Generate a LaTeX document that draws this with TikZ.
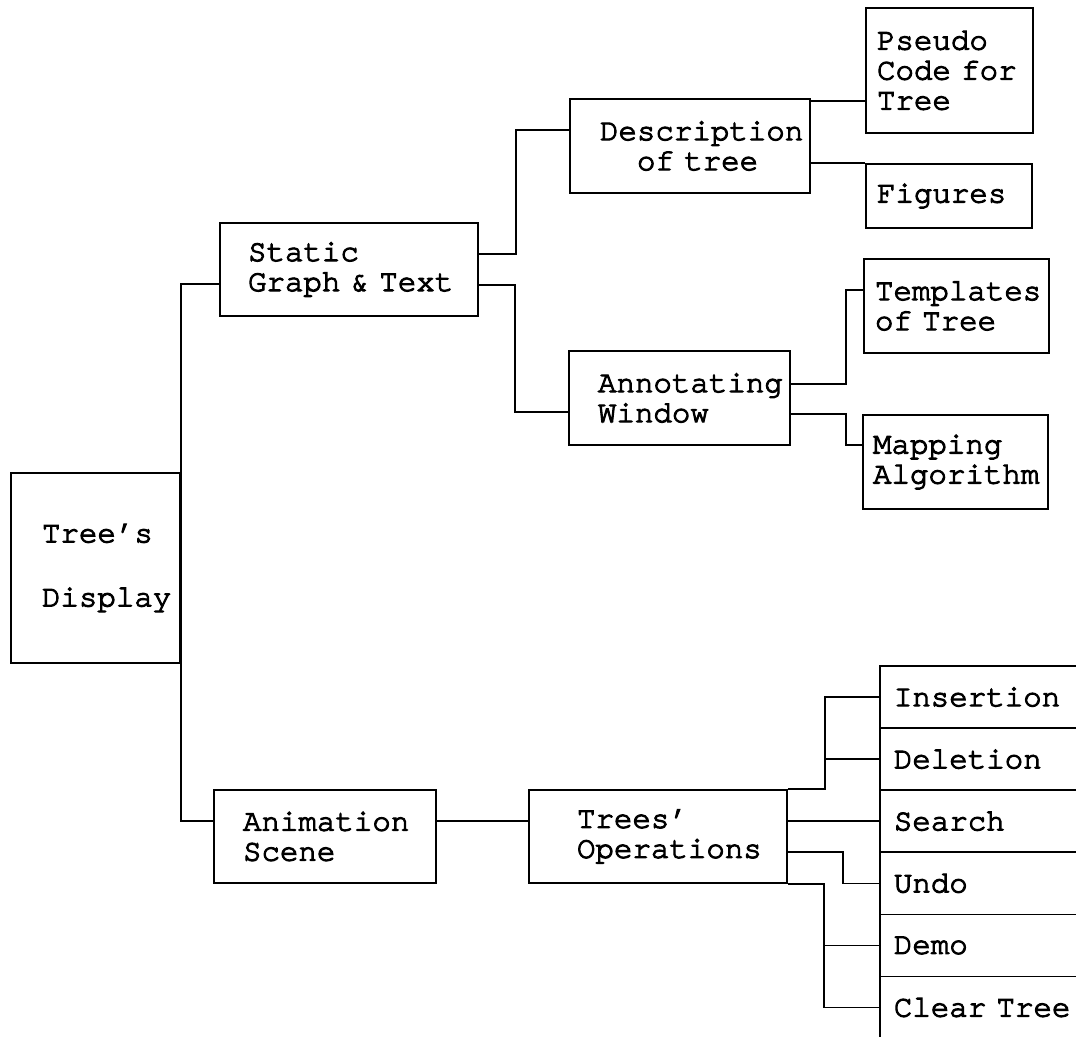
\documentclass[tikz,border=0pt]{standalone}
\usepackage{fontspec}
\newfontfamily\cour{TeX Gyre Cursor}[FakeBold=3.5]
\hyphenpenalty=10000
\exhyphenpenalty=10000
\begin{document}
\begin{tikzpicture}[x=1pt,y=-1pt,
  every node/.style={font=\cour\fontsize{30.8}{30}\selectfont},
  % box={text width}{height}{left padding}
  box/.style n args={3}{draw, line width=1.7pt, rectangle, align=left,
    text width=#1, minimum height=#2, inner xsep=#3, inner ysep=0pt},
  conn/.style={line width=1.7pt}]
\useasboundingbox (0,0) rectangle (1076,1036);
\clip (0,0) rectangle (1076,1036);

% root and first level
\node[box={107pt}{190pt}{31pt}] (disp) at (95.5,568) {Tree’s\\[34pt]Display};
\node[box={202pt}{93pt}{28pt}] (stat) at (349,269.5) {Static\\Graph~\&~Text};
\node[box={164pt}{93pt}{29pt}] (anim) at (325,836.5) {Animation\\Scene};

% second level
\node[box={180pt}{94pt}{30pt}] (desc) at (690,146) {\mbox{Description}\\\hspace*{37pt}of~tree};
\node[box={163pt}{94pt}{29pt}] (anno) at (679.5,398) {\mbox{Annotating}\\Window};
\node[box={162pt}{93pt}{48pt}] (tops) at (658,836.5) {Trees’\\\mbox{Operations}};

% leaves of the static branch
\node[box={145pt}{125pt}{11pt}] (pseu) at (949.5,70.5) {Pseudo\\Code~for\\Tree};
\node[box={144pt}{64pt}{11pt}] (figs) at (949,196) {Figures};
\node[box={163pt}{94pt}{11pt}] (tmpl) at (956.5,306) {\mbox{Templates}\\of~Tree};
\node[box={165pt}{94pt}{10pt}] (mapp) at (955.5,462) {Mapping\\\mbox{Algorithm}};

% operations column
\tikzset{opbox/.style={box={232pt}{62.1pt}{14pt}, anchor=west}}
\node[opbox] (ins)  at (879,697.05)  {Insertion};
\node[opbox] (del)  at (879,759.15)  {Deletion};
\node[opbox] (srch) at (879,821.25)  {Search};
\node[opbox] (undo) at (879,883.35)  {Undo};
\node[opbox] (demo) at (879,945.45)  {Demo};
\node[opbox] (clr)  at (879,1007.55) {Clear~Tree};

% trunk, running along the right side of the root box
\draw[conn] ([yshift=-14.5pt]stat.west) -| (disp.east) |- ([yshift=15.5pt]anim.west);

% static branch
\draw[conn] ([yshift=15.5pt]stat.east) -- ++(37,0) |- ([yshift=16pt]desc.west);
\draw[conn] ([yshift=-15.5pt]stat.east) -- ++(36,0) |- ([yshift=-14pt]anno.west);
\draw[conn] ([yshift=45pt]desc.east) coordinate (d1) -- (d1 -| pseu.west);
\draw[conn] ([yshift=-17pt]desc.east) coordinate (d2) -- (d2 -| figs.west);
\draw[conn] ([yshift=14pt]anno.east) -- ++(55,0) |- ([yshift=16pt]tmpl.west);
\draw[conn] ([yshift=-16pt]anno.east) -- ++(55,0) |- ([yshift=17pt]mapp.west);

% animation branch
\draw[conn] ([yshift=15.5pt]anim.east) coordinate (a1) -- (a1 -| tops.west);
\draw[conn] (tops.north east) -- ++(37,0) |- (ins.west);
\draw[conn] ([xshift=37pt]tops.north east) |- (del.west);
\draw[conn] (tops.east |- srch.west) -- (srch.west);
\draw[conn] ([yshift=-15.5pt]tops.east) -- ++(55,0) |- (undo.west);
\draw[conn] (tops.south east) -- ++(36,0) |- (clr.west);
\draw[conn] ([xshift=36pt]tops.south east) |- (demo.west);
\end{tikzpicture}
\end{document}
